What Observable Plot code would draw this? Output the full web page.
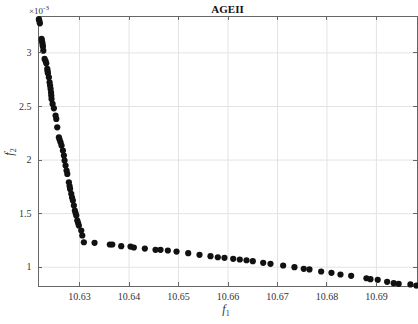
<!DOCTYPE html>
<html>
<head>
<meta charset="utf-8">
<script src="https://cdn.jsdelivr.net/npm/d3@7"></script>
<script src="https://cdn.jsdelivr.net/npm/@observablehq/plot@0.6"></script>
<style>
  body { margin: 0; background: #fff; }
  #chart svg { display: block; }
</style>
</head>
<body>
<div id="chart"></div>
<script>
const title = "AGEII";
const xTicks = [10.63, 10.64, 10.65, 10.66, 10.67, 10.68, 10.69];
const xTickLabels = ["10.63", "10.64", "10.65", "10.66", "10.67", "10.68", "10.69"];
const yTicks = [1, 1.5, 2, 2.5, 3];
const yTickLabels = ["1", "1.5", "2", "2.5", "3"];
const yExponent = "-3";

const f1 = [
  10.62178, 10.62188, 10.62198, 10.62232, 10.62238, 10.62246, 10.62253, 10.62259, 10.62267,
  10.62293, 10.62313, 10.62327, 10.62347, 10.62354, 10.62360, 10.62380, 10.62394, 10.62404,
  10.62414, 10.62424, 10.62428, 10.62434, 10.62455, 10.62481, 10.62515, 10.62529, 10.62549,
  10.62582, 10.62596, 10.62616, 10.62636, 10.62663, 10.62683, 10.62697, 10.62717, 10.62737,
  10.62752, 10.62784, 10.62798, 10.62808, 10.62832, 10.62848, 10.62865, 10.62885, 10.62905,
  10.62919, 10.62933, 10.62954, 10.62970, 10.62986, 10.63034, 10.63055, 10.63087,
  10.63303, 10.63612, 10.63661, 10.63842, 10.64030, 10.64097, 10.64319, 10.64535, 10.64636,
  10.64784, 10.64960, 10.65196, 10.65424, 10.65646, 10.65794, 10.65929, 10.66105, 10.66238,
  10.66374, 10.66501, 10.66711, 10.66859, 10.67115, 10.67343, 10.67531, 10.67646, 10.67883,
  10.68091, 10.68273, 10.68489, 10.68798, 10.68879, 10.69026, 10.69216, 10.69349, 10.69450,
  10.69687, 10.69808
];
const f2 = [
  3.315, 3.297, 3.276, 3.131, 3.115, 3.099, 3.077, 3.059, 3.021,
  2.944, 2.924, 2.903, 2.851, 2.830, 2.810, 2.772, 2.726, 2.695,
  2.664, 2.630, 2.602, 2.571, 2.524, 2.483, 2.415, 2.384, 2.306,
  2.213, 2.191, 2.166, 2.135, 2.089, 2.042, 1.995, 1.949, 1.902,
  1.871, 1.793, 1.757, 1.731, 1.685, 1.650, 1.622, 1.576, 1.529,
  1.506, 1.482, 1.436, 1.412, 1.389, 1.342, 1.296, 1.233,
  1.228, 1.212, 1.212, 1.196, 1.193, 1.184, 1.174, 1.162, 1.162,
  1.156, 1.146, 1.131, 1.116, 1.103, 1.093, 1.088, 1.078, 1.072,
  1.065, 1.056, 1.041, 1.032, 1.016, 1.000, 0.985, 0.979, 0.960,
  0.948, 0.932, 0.920, 0.897, 0.888, 0.882, 0.864, 0.851, 0.845,
  0.839, 0.829
];

const data = f1.map((x, i) => ({f1: x, f2: f2[i]}));
const font = "'Liberation Serif', 'Times New Roman', serif";

const chart = Plot.plot({
  width: 418,
  height: 324,
  marginLeft: 38,
  marginTop: 16,
  marginRight: 1,
  marginBottom: 38,
  style: {fontFamily: font, fontSize: "10px", color: "#333", background: "#fff", overflow: "visible"},
  x: {domain: [10.6217, 10.6983]},
  y: {domain: [0.82, 3.34]},
  marks: [
    Plot.gridX({ticks: xTicks, stroke: "#e3e3e3", strokeOpacity: 1}),
    Plot.gridY({ticks: yTicks, stroke: "#e3e3e3", strokeOpacity: 1}),
    Plot.axisX({ticks: xTicks, tickFormat: (d, i) => xTickLabels[i], tickSize: 0, tickPadding: 6, label: null, fill: "#333"}),
    Plot.axisY({ticks: yTicks, tickFormat: (d, i) => yTickLabels[i], tickSize: 0, tickPadding: 7, label: null, fill: "#333"}),
    Plot.frame({stroke: "#666"}),
    Plot.dot(data, {x: "f1", y: "f2", r: 3.1, fill: "#111", stroke: null})
  ]
});

const svg = d3.select(chart);
// inner ticks on all four sides (MATLAB style)
const xs = chart.scale("x"), ys = chart.scale("y");
const L = 38, R = 417, T = 16, B = 286;
const tg = svg.append("g").attr("stroke", "#666").attr("stroke-width", 1);
xTicks.forEach(v => {
  const px = Math.round(xs.apply(v)) + 0.5;
  tg.append("line").attr("x1", px).attr("x2", px).attr("y1", B).attr("y2", B - 4);
  tg.append("line").attr("x1", px).attr("x2", px).attr("y1", T).attr("y2", T + 4);
});
yTicks.forEach(v => {
  const py = Math.round(ys.apply(v)) + 0.5;
  tg.append("line").attr("x1", L).attr("x2", L + 4).attr("y1", py).attr("y2", py);
  tg.append("line").attr("x1", R).attr("x2", R - 4).attr("y1", py).attr("y2", py);
});

// title
svg.append("text").attr("x", (L + R) / 2).attr("y", 13).attr("text-anchor", "middle")
  .attr("font-family", font).attr("font-weight", "bold").attr("font-size", 11).attr("fill", "#111").text(title);

// exponent label
const ex = svg.append("text").attr("x", 39).attr("y", 14).attr("font-family", font)
  .attr("font-size", 9).attr("fill", "#333");
ex.append("tspan").text("×10");
ex.append("tspan").attr("dy", -4).attr("font-size", 7).text(yExponent);

// axis labels
const xl = svg.append("text").attr("x", 226).attr("y", 313).attr("text-anchor", "middle")
  .attr("font-family", font).attr("font-size", 12).attr("fill", "#333");
xl.append("tspan").attr("font-style", "italic").text("f");
xl.append("tspan").attr("font-size", 8).attr("dy", 3).text("1");

const yl = svg.append("text").attr("transform", "translate(13,152) rotate(-90)").attr("text-anchor", "middle")
  .attr("font-family", font).attr("font-size", 12).attr("fill", "#333");
yl.append("tspan").attr("font-style", "italic").text("f");
yl.append("tspan").attr("font-size", 8).attr("dy", 3).text("2");

document.getElementById("chart").appendChild(chart);
</script>
</body>
</html>
